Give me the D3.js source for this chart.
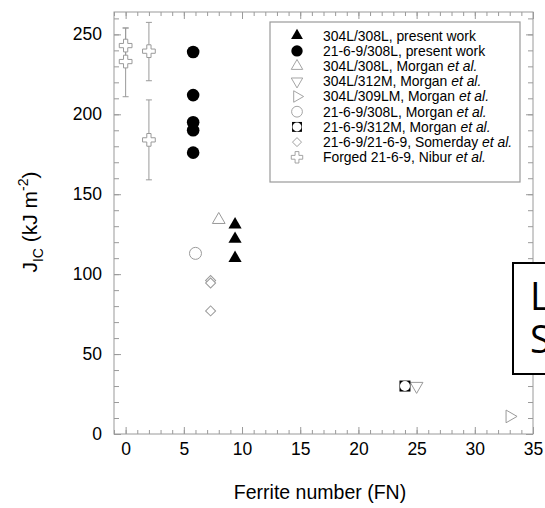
<!DOCTYPE html>
<html>
<head>
<meta charset="utf-8">
<script src="https://cdn.jsdelivr.net/npm/d3@7"></script>
<style>
  body { margin: 0; background: #fff; }
  svg { display: block; font-family: "Liberation Sans", Arial, sans-serif; }
</style>
</head>
<body>
<div id="chart"></div>
<script>
// Data
var ptwTriangles = [[9.4, 131], [9.4, 122], [9.4, 110]];            // 304L/308L, present work
var ptwCircles = [[5.8, 239], [5.8, 212], [5.8, 195], [5.8, 190], [5.8, 176]]; // 21-6-9/308L, present work
var morganUp = [[8.0, 134]];      // 304L/308L, Morgan
var morganDown = [[25.0, 30]];    // 304L/312M, Morgan
var morganRight = [[33.0, 11]];   // 304L/309LM, Morgan
var morganCircle = [[6.0, 113]];  // 21-6-9/308L, Morgan
var morganSquare = [[24.0, 30]];  // 21-6-9/312M, Morgan
var somerday = [[7.3, 96], [7.3, 94.5], [7.3, 77]];
// Nibur: x, y, low, high
var nibur = [[0, 243, 232, 254], [0, 233, 211, 254], [2, 239.5, 221, 257.5], [2, 184, 159, 209]];

var legendLabels = [
  ["304L/308L, present work", ""],
  ["21-6-9/308L, present work", ""],
  ["304L/308L, Morgan ", "et al."],
  ["304L/312M, Morgan ", "et al."],
  ["304L/309LM, Morgan ", "et al."],
  ["21-6-9/308L, Morgan ", "et al."],
  ["21-6-9/312M, Morgan ", "et al."],
  ["21-6-9/21-6-9, Somerday ", "et al."],
  ["Forged 21-6-9, Nibur ", "et al."]
];

var xMajor = [0, 5, 10, 15, 20, 25, 30, 35];
var yMajor = [0, 50, 100, 150, 200, 250];

var width = 545, height = 508;
var mLeft = 114, mRight = 533, mTop = 12, mBottom = 434;
var gray = "#9a9a9a";

var svg = d3.select("#chart").append("svg")
  .attr("width", width)
  .attr("height", height);

var x = d3.scaleLinear().domain([-1, 35]).range([mLeft, mRight]);
var y = d3.scaleLinear().domain([0, 264]).range([mBottom, mTop]);

var xMinor = d3.range(-1, 36, 1);
var yMinor = d3.range(0, 265, 10);

// minor ticks, all four sides
svg.append("g").attr("transform", `translate(0,${mBottom})`)
  .call(d3.axisBottom(x).tickValues(xMinor).tickSize(-4).tickFormat(""));
svg.append("g").attr("transform", `translate(0,${mTop})`)
  .call(d3.axisTop(x).tickValues(xMinor).tickSize(-4).tickFormat(""));
svg.append("g").attr("transform", `translate(${mLeft},0)`)
  .call(d3.axisLeft(y).tickValues(yMinor).tickSize(-5).tickFormat(""));
svg.append("g").attr("transform", `translate(${mRight},0)`)
  .call(d3.axisRight(y).tickValues(yMinor).tickSize(-5).tickFormat(""));

// major ticks with labels
svg.append("g").attr("class", "xaxis").attr("transform", `translate(0,${mBottom})`)
  .call(d3.axisBottom(x).tickValues(xMajor).tickSize(-7).tickPadding(9));
svg.append("g").attr("transform", `translate(0,${mTop})`)
  .call(d3.axisTop(x).tickValues(xMajor).tickSize(-7).tickFormat(""));
svg.append("g").attr("class", "yaxis").attr("transform", `translate(${mLeft},0)`)
  .call(d3.axisLeft(y).tickValues(yMajor).tickSize(-7).tickPadding(12));
svg.append("g").attr("transform", `translate(${mRight},0)`)
  .call(d3.axisRight(y).tickValues(yMajor).tickSize(-7).tickFormat(""));

svg.selectAll(".domain").remove();
svg.selectAll(".tick line").attr("stroke", gray);
svg.selectAll(".tick text").attr("fill", "#000").style("font-size", "17.5px")
  .style("font-family", "Liberation Sans, Arial, sans-serif");

// frame
svg.append("rect")
  .attr("x", mLeft).attr("y", mTop)
  .attr("width", mRight - mLeft).attr("height", mBottom - mTop)
  .attr("fill", "none").attr("stroke", gray).attr("stroke-width", 1);

// axis titles
svg.append("text")
  .attr("x", 320).attr("y", 499)
  .attr("text-anchor", "middle")
  .style("font-size", "19.5px")
  .text("Ferrite number (FN)");

var yt = svg.append("text")
  .attr("transform", "translate(37, 222) rotate(-90)")
  .attr("text-anchor", "middle")
  .style("font-size", "21px");
yt.append("tspan").text("J");
yt.append("tspan").attr("dy", 6).style("font-size", "14px").text("IC");
yt.append("tspan").attr("dy", -6).text(" (kJ m");
yt.append("tspan").attr("dy", -9).style("font-size", "14px").text("-2");
yt.append("tspan").attr("dy", 9).text(")");

// marker helpers
function drawMarker(g, kind, cx, cy, s) {
  s = s || 1;
  var m = g.append("g").attr("transform", `translate(${cx},${cy}) scale(${s})`);
  if (kind === "triF") {
    m.append("path").attr("d", d3.symbol(d3.symbolTriangle, 75)()).attr("fill", "#000");
  } else if (kind === "circF") {
    m.append("circle").attr("r", 6.3).attr("fill", "#000");
  } else if (kind === "triUp" || kind === "triDown" || kind === "triRight") {
    var rot = kind === "triUp" ? 0 : (kind === "triDown" ? 180 : 90);
    m.append("path").attr("d", d3.symbol(d3.symbolTriangle, 70)())
      .attr("transform", `rotate(${rot})`)
      .attr("fill", "#fff").attr("stroke", gray).attr("stroke-width", 1);
  } else if (kind === "circO") {
    m.append("circle").attr("r", 6).attr("fill", "#fff").attr("stroke", gray).attr("stroke-width", 1);
  } else if (kind === "sq") {
    m.append("rect").attr("x", -5.5).attr("y", -5.5).attr("width", 11).attr("height", 11).attr("fill", "#000");
    m.append("circle").attr("r", 5).attr("fill", "#fff");
  } else if (kind === "dia") {
    m.append("path").attr("d", d3.symbol(d3.symbolSquare, 50)())
      .attr("transform", "rotate(45)")
      .attr("fill", "#fff").attr("stroke", gray).attr("stroke-width", 1);
  } else if (kind === "plus") {
    m.append("path").attr("d", d3.symbol(d3.symbolCross, 90)())
      .attr("fill", "#fff").attr("stroke", gray).attr("stroke-width", 1);
  }
}

var plot = svg.append("g");

// Nibur error bars
nibur.forEach(function(d) {
  plot.append("line")
    .attr("x1", x(d[0])).attr("x2", x(d[0]))
    .attr("y1", y(d[2])).attr("y2", y(d[3]))
    .attr("stroke", gray);
  [d[2], d[3]].forEach(function(v) {
    plot.append("line")
      .attr("x1", x(d[0]) - 3).attr("x2", x(d[0]) + 3)
      .attr("y1", y(v)).attr("y2", y(v))
      .attr("stroke", gray);
  });
});
nibur.forEach(function(d) { drawMarker(plot, "plus", x(d[0]), y(d[1])); });

somerday.forEach(function(d) { drawMarker(plot, "dia", x(d[0]), y(d[1])); });
morganCircle.forEach(function(d) { drawMarker(plot, "circO", x(d[0]), y(d[1])); });
morganUp.forEach(function(d) { drawMarker(plot, "triUp", x(d[0]), y(d[1])); });
morganDown.forEach(function(d) { drawMarker(plot, "triDown", x(d[0]), y(d[1])); });
morganRight.forEach(function(d) { drawMarker(plot, "triRight", x(d[0]), y(d[1])); });
morganSquare.forEach(function(d) { drawMarker(plot, "sq", x(d[0]), y(d[1])); });
ptwCircles.forEach(function(d) { drawMarker(plot, "circF", x(d[0]), y(d[1])); });
ptwTriangles.forEach(function(d) { drawMarker(plot, "triF", x(d[0]), y(d[1])); });

// legend
var legend = svg.append("g");
legend.append("rect")
  .attr("x", 270).attr("y", 22).attr("width", 250).attr("height", 160)
  .attr("fill", "#fff").attr("stroke", gray).attr("stroke-width", 1.2);
var kinds = ["triF", "circF", "triUp", "triDown", "triRight", "circO", "sq", "dia", "plus"];
legendLabels.forEach(function(lab, i) {
  var ly = 35.7 + i * 15.2;
  drawMarker(legend, kinds[i], 297, ly, 0.9);
  var t = legend.append("text").attr("x", 323).attr("y", ly).attr("dy", "0.35em")
    .style("font-size", "13.9px");
  t.append("tspan").text(lab[0]);
  if (lab[1]) t.append("tspan").style("font-style", "italic").text(lab[1]);
});

// clipped text box at lower right
svg.append("rect")
  .attr("x", 513).attr("y", 263).attr("width", 60).attr("height", 111)
  .attr("fill", "#fff").attr("stroke", "#000").attr("stroke-width", 2);
svg.append("text").attr("x", 530).attr("y", 310)
  .style("font-family", "Open Sans, sans-serif").style("font-size", "38px").text("L");
svg.append("text").attr("x", 530).attr("y", 353)
  .style("font-family", "Open Sans, sans-serif").style("font-size", "38px").text("S");
</script>
</body>
</html>
